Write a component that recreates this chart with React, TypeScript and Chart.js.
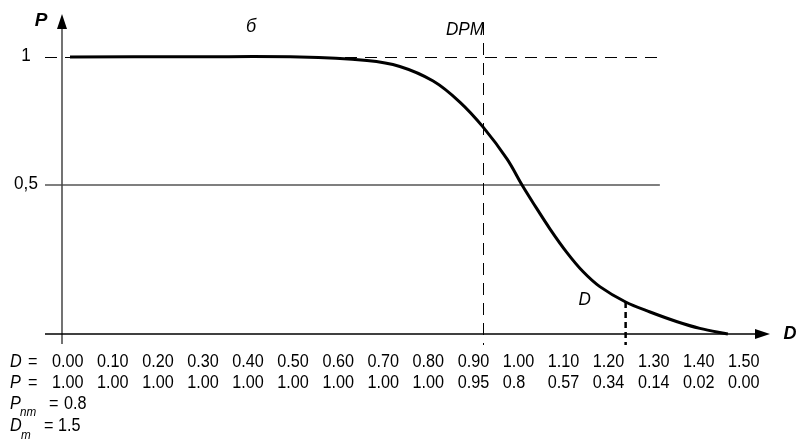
import { useEffect, useRef } from 'react';
import { Chart, registerables } from 'chart.js';

Chart.register(...registerables);

// Curve (D on the horizontal axis, P on the vertical one)
const CURVE_D = [0, 0.29, 0.517, 0.668, 0.742, 0.817, 0.877, 0.929, 0.983, 1.017, 1.042, 1.08, 1.118, 1.154, 1.192, 1.25, 1.305, 1.366, 1.417, 1.48];
const CURVE_P = [1.0, 1.001, 1.0, 0.986, 0.963, 0.906, 0.824, 0.727, 0.602, 0.5, 0.43, 0.328, 0.236, 0.162, 0.103, 0.043, 0.004, -0.034, -0.06, -0.082];

// Reference values
const Y_TICK_VALUES = [1, 0.5];
const Y_TICK_LABELS = ['1', '0,5'];
const DPM_VALUE = 0.929;
const D_MARK_VALUE = 1.25;
const AXIS_D = -0.018; // where the P axis stands
const AXIS_P = -0.082; // where the D axis lies
const REF_LINE_END_D = 1.327;

// Table below the chart
const TABLE_D = ['0.00', '0.10', '0.20', '0.30', '0.40', '0.50', '0.60', '0.70', '0.80', '0.90', '1.00', '1.10', '1.20', '1.30', '1.40', '1.50'];
const TABLE_P = ['1.00', '1.00', '1.00', '1.00', '1.00', '1.00', '1.00', '1.00', '1.00', '0.95', '0.8', '0.57', '0.34', '0.14', '0.02', '0.00'];
const P_NM = '0.8';
const D_M = '1.5';

const FONT = '"Liberation Sans", Arial, sans-serif';

const overlay = {
  id: 'overlay',
  beforeDatasetsDraw(chart: any) {
    const { ctx, chartArea: a, scales } = chart;
    const x = scales.x;
    const y = scales.y;
    const px = (d: number) => x.getPixelForValue(d);
    const py = (p: number) => y.getPixelForValue(p);
    const crisp = (v: number) => Math.round(v) + 0.5;
    const line = (x1: number, y1: number, x2: number, y2: number) => {
      ctx.beginPath();
      ctx.moveTo(x1, y1);
      ctx.lineTo(x2, y2);
      ctx.stroke();
    };
    ctx.save();
    // dashed line at P = 1
    ctx.strokeStyle = '#000';
    ctx.lineWidth = 1;
    ctx.setLineDash([12, 8]);
    const y1 = crisp(py(Y_TICK_VALUES[0]));
    line(a.left, y1, px(REF_LINE_END_D), y1);
    // solid line at P = 0.5
    ctx.setLineDash([]);
    ctx.strokeStyle = '#555';
    ctx.lineWidth = 1.5;
    line(a.left, py(Y_TICK_VALUES[1]), px(REF_LINE_END_D), py(Y_TICK_VALUES[1]));
    // DPM vertical dashed
    ctx.strokeStyle = '#000';
    ctx.lineWidth = 1;
    ctx.setLineDash([12, 8]);
    const dx = crisp(px(DPM_VALUE));
    line(dx, a.top + 9, dx, a.bottom + 1);
    ctx.setLineDash([]);
    // P axis
    const ax = px(AXIS_D);
    ctx.strokeStyle = '#444';
    ctx.lineWidth = 1.5;
    line(ax, a.bottom, ax, a.top + 12);
    ctx.fillStyle = '#000';
    ctx.beginPath();
    ctx.moveTo(ax, a.top);
    ctx.lineTo(ax - 5, a.top + 15);
    ctx.lineTo(ax + 5, a.top + 15);
    ctx.closePath();
    ctx.fill();
    // D axis
    const ay = py(AXIS_P);
    ctx.strokeStyle = '#000';
    ctx.lineWidth = 1.5;
    line(a.left, ay, a.right - 12, ay);
    ctx.beginPath();
    ctx.moveTo(a.right, ay);
    ctx.lineTo(a.right - 15, ay - 5);
    ctx.lineTo(a.right - 15, ay + 5);
    ctx.closePath();
    ctx.fill();
    ctx.restore();
  },
  afterDatasetsDraw(chart: any) {
    const { ctx, chartArea: a, scales } = chart;
    const y = scales.y;
    const py = (p: number) => y.getPixelForValue(p);
    ctx.save();
    // D marker from the curve down through the axis
    const idx = CURVE_D.indexOf(D_MARK_VALUE);
    const meta = chart.getDatasetMeta(0);
    const mx = meta.data[idx].x;
    const my = meta.data[idx].y;
    ctx.strokeStyle = '#000';
    ctx.lineWidth = 2.5;
    ctx.setLineDash([6, 4]);
    ctx.beginPath();
    ctx.moveTo(mx, my);
    ctx.lineTo(mx, a.bottom + 1);
    ctx.stroke();
    ctx.setLineDash([]);

    ctx.fillStyle = '#000';
    ctx.textBaseline = 'middle';
    const text = (t: string, tx: number, ty: number, font: string, align: CanvasTextAlign = 'left', sx = 1) => {
      ctx.save();
      ctx.font = font;
      ctx.textAlign = align;
      ctx.translate(tx, ty);
      ctx.scale(sx, 1);
      ctx.fillText(t, 0, 0);
      ctx.restore();
    };
    // axis titles and tick labels
    text('P', 41, 21, `italic bold 19px ${FONT}`, 'center');
    text('D', 790, 334, `italic bold 18px ${FONT}`, 'center');
    Y_TICK_LABELS.forEach((l, i) => {
      text(l, 26, py(Y_TICK_VALUES[i]) - 1, `18px ${FONT}`, 'center', 0.95);
    });
    text('б', 251, 27, `italic 18px ${FONT}`, 'center');
    text('DPM', 465, 30, `italic 18px ${FONT}`, 'center', 0.95);
    text('D', mx - 41, my - 2, `italic 18px ${FONT}`, 'center', 0.95);

    // table
    const SX = 0.9;
    const colLeft = (i: number) => 52 + i * 45.07;
    const rowFont = `18px ${FONT}`;
    const itFont = `italic 18px ${FONT}`;
    const subFont = `italic 13px ${FONT}`;
    text('D', 10, 362, itFont, 'left', SX);
    text('=', 28, 362, rowFont, 'left', SX);
    TABLE_D.forEach((v, i) => text(v, colLeft(i), 362, rowFont, 'left', SX));
    text('P', 10, 383, itFont, 'left', SX);
    text('=', 28, 383, rowFont, 'left', SX);
    TABLE_P.forEach((v, i) => text(v, colLeft(i), 383, rowFont, 'left', SX));
    text('P', 10, 404, itFont, 'left', SX);
    text('nm', 20, 412, subFont, 'left', SX);
    text('=', 49, 404, rowFont, 'left', SX);
    text(P_NM, 64, 404, rowFont, 'left', SX);
    text('D', 10, 426, itFont, 'left', SX);
    text('m', 21, 435, subFont, 'left', SX);
    text('=', 44, 426, rowFont, 'left', SX);
    text(D_M, 58, 426, rowFont, 'left', SX);
    ctx.restore();
  },
};

export default function App() {
  const ref = useRef<HTMLCanvasElement | null>(null);
  useEffect(() => {
    if (!ref.current) return;
    const chart = new Chart(ref.current, {
      type: 'line',
      data: {
        datasets: [
          {
            data: CURVE_D.map((d, i) => ({ x: d, y: CURVE_P[i] })),
            borderColor: '#000',
            borderWidth: 3,
            pointRadius: 0,
            tension: 0.35,
            fill: false,
            clip: false as any,
          },
        ],
      },
      options: {
        animation: false,
        responsive: false,
        events: [],
        layout: { padding: { left: 45, right: 36, top: 14, bottom: 97 } },
        plugins: { legend: { display: false }, tooltip: { enabled: false }, title: { display: false } },
        scales: {
          x: { type: 'linear', min: -0.05624, max: 1.5748, display: false },
          y: { type: 'linear', min: -0.121, max: 1.168, display: false },
        },
      },
      plugins: [overlay],
    });
    return () => chart.destroy();
  }, []);
  return (
    <div style={{ position: 'fixed', left: 0, top: 0, width: 806, height: 441, background: '#fff' }}>
      <canvas ref={ref} width={806} height={441} style={{ width: 806, height: 441 }} />
    </div>
  );
}
